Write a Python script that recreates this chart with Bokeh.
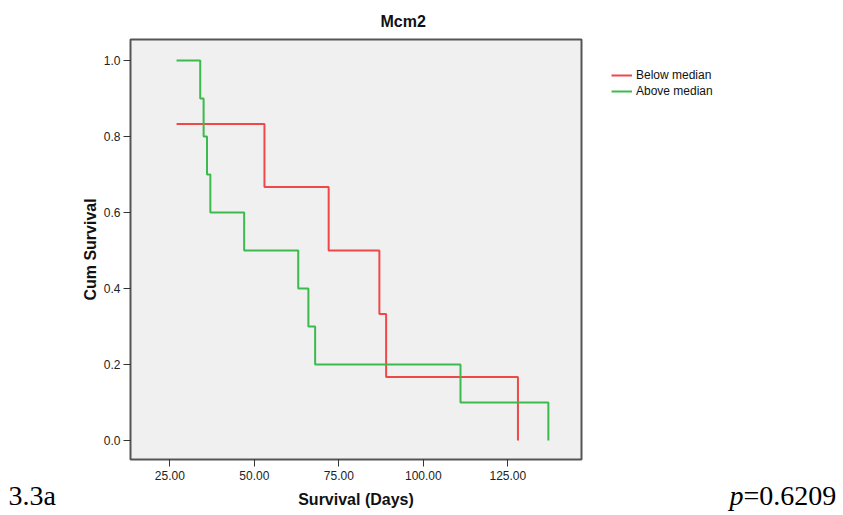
from bokeh.plotting import figure
from bokeh.layouts import row
from bokeh.models import Label, Legend, LegendItem, FixedTicker, Range1d, PrintfTickFormatter, Title
from bokeh.embed import file_html
from bokeh.resources import INLINE

# ---- data ----
title_text = "Mcm2"
x_label = "Survival (Days)"
y_label = "Cum Survival"
series_names = ["Below median", "Above median"]
below_days = [27, 53, 72, 87, 89, 128]
below_surv = [0.833, 0.667, 0.5, 0.333, 0.167, 0.0]
above_days = [27, 34, 35, 36, 37, 47, 63, 66, 68, 111, 137]
above_surv = [1.0, 0.9, 0.8, 0.7, 0.6, 0.5, 0.4, 0.3, 0.2, 0.1, 0.0]
x_ticks = [25, 50, 75, 100, 125]
y_ticks = [0.0, 0.2, 0.4, 0.6, 0.8, 1.0]
panel_label = "3.3a"
p_letter = "p"
p_value_text = "=0.6209"

SANS = "Liberation Sans"
SERIF = "Liberation Serif"
RED = "#F04848"
GREEN = "#3CBA4B"
H = 515
LEFT_W = 75
MAIN_W = 515
RIGHT_W = 843 - LEFT_W - MAIN_W


def blank(width):
    f = figure(width=width, height=H, output_backend="svg", toolbar_location=None,
               x_axis_location=None, y_axis_location=None,
               x_range=Range1d(0, 1), y_range=Range1d(0, 1), frame_align=False,
               min_border=0, min_border_left=0, min_border_right=0,
               min_border_top=0, min_border_bottom=0)
    f.outline_line_color = None
    f.background_fill_color = "white"
    f.border_fill_color = "white"
    f.xgrid.visible = False
    f.ygrid.visible = False
    return f


# ---- main chart ----
p = figure(width=MAIN_W, height=H, output_backend="svg", toolbar_location=None,
           x_range=Range1d(13.37, 146.8), y_range=Range1d(-0.05, 1.0553), frame_align=False,
           min_border_left=130 - LEFT_W, min_border_right=9, min_border_top=39, min_border_bottom=56)

p.background_fill_color = "#F0F0F0"
p.border_fill_color = "white"
p.outline_line_color = "#555555"
p.outline_line_width = 2
p.xgrid.visible = False
p.ygrid.visible = False

for ax in (p.xaxis[0], p.yaxis[0]):
    ax.axis_line_color = None
    ax.major_tick_in = 0
    ax.major_tick_out = 7
    ax.major_tick_line_color = "#333333"
    ax.minor_tick_line_color = None
    ax.major_label_text_font = SANS
    ax.major_label_text_font_size = "12px"
    ax.major_label_text_color = "#222222"
    ax.axis_label_text_font = SANS
    ax.axis_label_text_font_size = "16px"
    ax.axis_label_text_font_style = "bold"
    ax.axis_label_text_color = "#111111"

p.xaxis.ticker = FixedTicker(ticks=x_ticks)
p.xaxis.formatter = PrintfTickFormatter(format="%.2f")
p.xaxis.axis_label = x_label
p.xaxis.major_label_standoff = 4
p.xaxis.axis_label_standoff = 8

p.yaxis.ticker = FixedTicker(ticks=y_ticks)
p.yaxis.formatter = PrintfTickFormatter(format="%.1f")
p.yaxis.axis_label = y_label
p.yaxis.major_label_standoff = 3
p.yaxis.axis_label_standoff = 2

p.step(below_days, below_surv, mode="after", line_width=2, line_color=RED)
p.step(above_days, above_surv, mode="after", line_width=2, line_color=GREEN)

p.add_layout(Title(text=title_text, align="left", offset=250, standoff=19,
                   text_font=SANS, text_font_size="16px", text_font_style="bold",
                   text_color="#111111"), "above")

# ---- left strip: panel label ----
left = blank(LEFT_W)
left.add_layout(Label(x=8, y=20, x_units="screen", y_units="screen", text=panel_label,
                      text_align="left", text_baseline="alphabetic", text_font=SERIF,
                      text_font_size="28px", text_color="black"))

# ---- right strip: legend and p value ----
right = blank(RIGHT_W)
# same series drawn in the strip (outside its view) so the legend has real renderers
lr_below = right.step(below_days, below_surv, mode="after", line_width=2, line_color=RED)
lr_above = right.step(above_days, above_surv, mode="after", line_width=2, line_color=GREEN)
legend = Legend(items=[LegendItem(label=series_names[0], renderers=[lr_below]),
                       LegendItem(label=series_names[1], renderers=[lr_above])],
                location=(21, H - 67 - 32), label_text_font=SANS, label_text_font_size="12px",
                label_text_color="#111111", glyph_width=21, glyph_height=16, label_height=16,
                label_standoff=4, spacing=0, padding=0, margin=0,
                border_line_color=None, background_fill_alpha=0)
right.add_layout(legend, "center")
right.add_layout(Label(x=139, y=20, x_units="screen", y_units="screen", text=p_letter,
                       text_align="left", text_baseline="alphabetic", text_font=SERIF,
                       text_font_size="28px", text_font_style="italic", text_color="black"))
right.add_layout(Label(x=153, y=20, x_units="screen", y_units="screen", text=p_value_text,
                       text_align="left", text_baseline="alphabetic", text_font=SERIF,
                       text_font_size="28px", text_color="black"))

layout = row(left, p, right, spacing=0)
open("out.html", "w").write(file_html(layout, INLINE))
